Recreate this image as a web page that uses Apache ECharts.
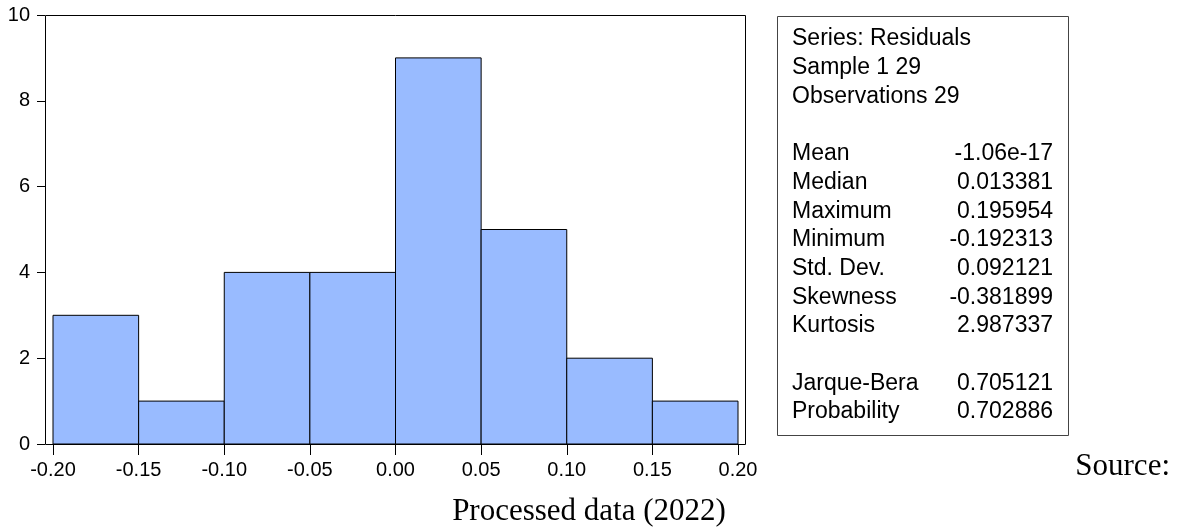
<!DOCTYPE html>
<html>
<head>
<meta charset="utf-8">
<script src="https://cdn.jsdelivr.net/npm/echarts@6/dist/echarts.min.js"></script>
<style>
html,body{margin:0;padding:0;background:#fff;}
#chart{width:1177px;height:531px;}
</style>
</head>
<body>
<div id="chart"></div>
<script>
// Histogram bins (residuals) and counts
const binStart = [-0.20, -0.15, -0.10, -0.05, 0.00, 0.05, 0.10, 0.15];
const binEnd   = [-0.15, -0.10, -0.05, 0.00, 0.05, 0.10, 0.15, 0.20];
const counts   = [3, 1, 4, 4, 9, 5, 2, 1];

// Stats panel
const headerLines = ['Series: Residuals', 'Sample 1 29', 'Observations 29'];
const statLabels = ['Mean', 'Median', 'Maximum', 'Minimum', 'Std. Dev.', 'Skewness', 'Kurtosis'];
const statValues = ['-1.06e-17', '0.013381', '0.195954', '-0.192313', '0.092121', '-0.381899', '2.987337'];
const testLabels = ['Jarque-Bera', 'Probability'];
const testValues = ['0.705121', '0.702886'];

const sourceText = 'Source:';
const captionText = 'Processed data (2022)';

const chart = echarts.init(document.getElementById('chart'), null, {renderer: 'canvas'});

const barData = binStart.map((s, i) => [s, binEnd[i], counts[i]]);

const FONT = '"Liberation Sans", Arial, sans-serif';
const SERIF = '"Liberation Serif", "Times New Roman", serif';

const graphics = [];
// plot frame
graphics.push({
  type: 'rect', z: 10, silent: true,
  shape: {x: 45.5, y: 15.5, width: 700, height: 429},
  style: {fill: 'none', stroke: '#000', lineWidth: 1}
});
// stats box
graphics.push({
  type: 'rect', z: 10, silent: true,
  shape: {x: 777.5, y: 16.5, width: 291, height: 419},
  style: {fill: '#fff', stroke: '#444', lineWidth: 1}
});
const lineH = 28.7;
const y0 = 39;
const lx = 792, rx = 1053;
function addText(txt, x, y, align) {
  graphics.push({
    type: 'text', z: 11, silent: true, x: x, y: y,
    style: {text: txt, fill: '#000', font: '23px ' + FONT, textAlign: align, textVerticalAlign: 'middle'}
  });
}
headerLines.forEach((t, i) => addText(t, lx, y0 + i * lineH, 'left'));
statLabels.forEach((t, i) => {
  addText(t, lx, y0 + (4 + i) * lineH, 'left');
  addText(statValues[i], rx, y0 + (4 + i) * lineH, 'right');
});
testLabels.forEach((t, i) => {
  addText(t, lx, y0 + (12 + i) * lineH, 'left');
  addText(testValues[i], rx, y0 + (12 + i) * lineH, 'right');
});
// Source / caption
graphics.push({
  type: 'text', z: 11, silent: true, x: 1170, y: 467,
  style: {text: sourceText, fill: '#000', font: '31px ' + SERIF, textAlign: 'right', textVerticalAlign: 'middle'}
});
graphics.push({
  type: 'text', z: 11, silent: true, x: 589, y: 512,
  style: {text: captionText, fill: '#000', font: '31px ' + SERIF, textAlign: 'center', textVerticalAlign: 'middle'}
});

const option = {
  animation: false,
  backgroundColor: '#fff',
  grid: {left: 53, right: 439, top: 15, bottom: 87, containLabel: false},
  xAxis: {
    type: 'value', min: -0.2, max: 0.2, interval: 0.05,
    axisLine: {show: false, onZero: false},
    axisTick: {show: true, length: 11, lineStyle: {color: '#000', width: 1}},
    splitLine: {show: false},
    axisLabel: {
      margin: 16, color: '#000', fontSize: 20, fontFamily: FONT,
      formatter: v => v.toFixed(2)
    }
  },
  yAxis: {
    type: 'value', min: 0, max: 10, interval: 2, offset: 8,
    axisLine: {show: false, onZero: false},
    axisTick: {show: true, length: 8, lineStyle: {color: '#000', width: 1}},
    splitLine: {show: false},
    axisLabel: {margin: 15, color: '#000', fontSize: 20, fontFamily: FONT}
  },
  series: [{
    type: 'custom',
    data: barData,
    encode: {x: [0, 1], y: 2},
    renderItem: function (params, api) {
      const p0 = api.coord([api.value(0), api.value(2)]);
      const p1 = api.coord([api.value(1), 0]);
      return {
        type: 'rect',
        shape: {x: p0[0], y: p0[1], width: p1[0] - p0[0], height: p1[1] - p0[1]},
        style: {fill: '#99BBFF', stroke: '#000', lineWidth: 1}
      };
    }
  }],
  graphic: graphics
};
chart.setOption(option);
</script>
</body>
</html>
